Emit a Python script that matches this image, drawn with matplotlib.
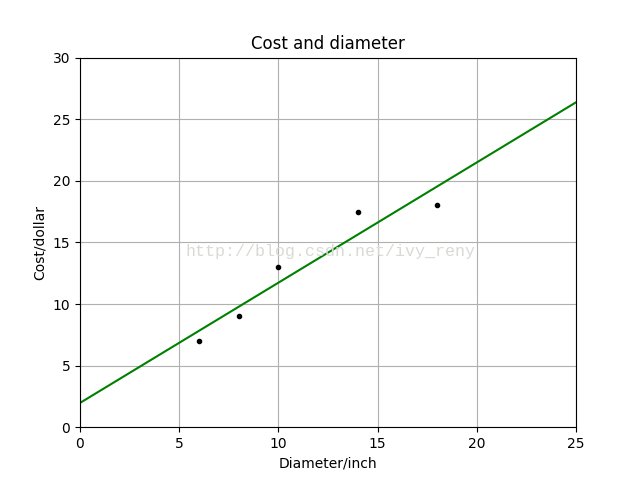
import matplotlib
matplotlib.use("Agg")
import matplotlib.pyplot as plt

diameter = [6, 8, 10, 14, 18]
cost = [7, 9, 13, 17.5, 18]
line_x = [0, 25]
line_y = [1.97, 26.37]

fig = plt.figure(figsize=(6.4, 4.8), dpi=100)
ax = fig.add_subplot(111)
ax.set_title("Cost and diameter")
ax.set_xlabel("Diameter/inch")
ax.set_ylabel("Cost/dollar")
ax.axis([0, 25, 0, 30])
ax.grid(True)
ax.plot(diameter, cost, "k.")
ax.plot(line_x, line_y, "g-")
fig.text(0.516, 0.477, "http://blog.csdn.net/ivy_reny", color="#dadad4",
         fontsize=12, family=["Liberation Mono", "DejaVu Sans Mono"], ha="center", va="center")
fig.savefig("out.png")
